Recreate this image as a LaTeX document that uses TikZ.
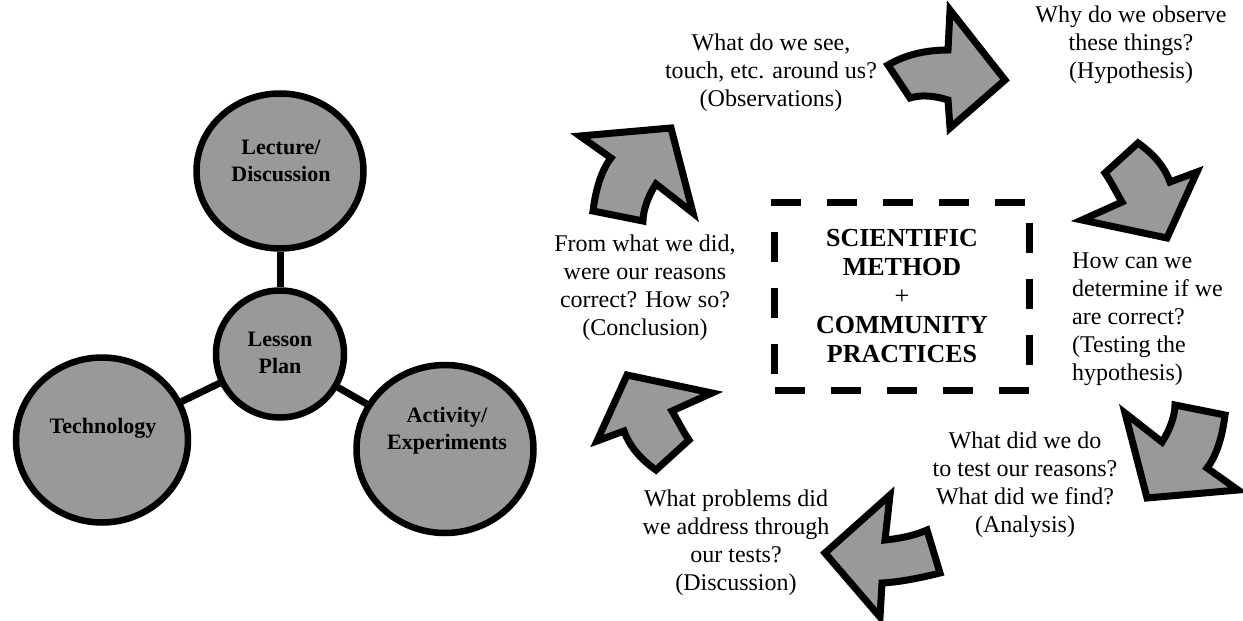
\documentclass[tikz,border=0pt]{standalone}
\usepackage{fontspec}
\setmainfont{Liberation Serif}
\usetikzlibrary{positioning,shapes.geometric}
\definecolor{ShapeGray}{HTML}{999999}

\tikzset{
  hub/.style={draw,ellipse,line width=6.5pt,fill=ShapeGray,inner sep=0pt},
  hub text/.style={align=center,inner sep=0pt,font=\fontsize{22}{27}\selectfont\bfseries},
  link/.style={line width=7pt},
  blockarrow/.style={draw,line width=7pt,fill=ShapeGray,line join=miter},
  step text/.style={align=center,inner sep=0pt,font=\fontsize{24}{28}\selectfont},
}

\begin{document}
\begin{tikzpicture}[x=1pt,y=-1pt]
  \useasboundingbox (0,0) rectangle (1243,621);
  % lesson plan hub
  \node[hub,minimum width=167pt,minimum height=155pt] (lecture) at (280,171) {};
  \node[hub,minimum width=128pt,minimum height=127pt] (lesson) at (280,354) {};
  \node[hub,minimum width=172pt,minimum height=165pt] (tech) at (102,440) {};
  \node[hub,minimum width=177pt,minimum height=168pt] (activity) at (445,449) {};
  \draw[link] (lecture) -- (lesson);
  \draw[link] (lesson) -- (tech);
  \draw[link] (lesson) -- (activity);
  \node[hub text] (lecture label) at (281,161) {Lecture/\\Discussion};
  \node[hub text] (lesson label) at (280,353) {Lesson\\Plan};
  \node[hub text] (tech label) at (103,428) {Technology};
  \node[hub text] (activity label) at (447,431) {Activity/\\Experiments};

  % scientific method cycle
  \node[draw,line width=7pt,dash pattern=on 30pt off 26pt,minimum width=255pt,minimum height=188pt,
    align=center,font=\fontsize{26}{29}\selectfont\bfseries] (method) at (902,296)
    {SCIENTIFIC\\METHOD\\{\mdseries+}\\COMMUNITY\\PRACTICES};

  \node[step text] (observe) at (771,73) {What do we see,\\touch, etc. around us?\\(Observations)};
  \node[step text] (hypo) at (1131,45) {Why do we observe\\these things?\\(Hypothesis)};
  \node[step text,align=left,anchor=west] (test) at (1072,319) {How can we\\determine if we\\are correct?\\(Testing the\\hypothesis)};
  \node[step text] (analysis) at (1025,485) {What did we do\\to test our reasons?\\What did we find?\\(Analysis)};
  \node[step text] (discuss) at (736,543) {What problems did\\we address through\\our tests?\\(Discussion)};
  \node[step text] (conclude) at (645,288) {From what we did,\\were our reasons\\correct? How so?\\(Conclusion)};

  % block arrows
  \draw[blockarrow] (888,65) .. controls (905,55) and (925,50) .. (948,50) -- (950,10) -- (1005,80)
    -- (950,128) -- (948,100) .. controls (932,95) and (920,95) .. (910,98) -- cycle;
  \draw[blockarrow] (1138,143) .. controls (1155,155) and (1165,168) .. (1170,182) -- (1197,172)
    -- (1167,238) -- (1082,220) -- (1122,202) .. controls (1115,190) and (1110,180) .. (1105,173) -- cycle;
  \draw[blockarrow] (1125,413) -- (1162,442) .. controls (1170,430) and (1175,415) .. (1175,405)
    -- (1225,415) .. controls (1222,440) and (1215,458) .. (1207,468) -- (1238,490) -- (1147,498) -- cycle;
  \draw[blockarrow] (825,553) -- (890,495) -- (885,540) .. controls (905,538) and (918,534) .. (927,530)
    -- (940,573) .. controls (920,578) and (900,582) .. (882,583) -- (880,617) -- cycle;
  \draw[blockarrow] (656,470) .. controls (639,458) and (629,445) .. (624,431) -- (597,441)
    -- (627,375) -- (712,393) -- (672,411) .. controls (679,423) and (684,433) .. (689,440) -- cycle;
  \draw[blockarrow] (693,213) -- (656,184) .. controls (648,196) and (643,211) .. (643,221)
    -- (593,211) .. controls (596,186) and (603,168) .. (611,158) -- (580,136) -- (671,128) -- cycle;
\end{tikzpicture}
\end{document}
